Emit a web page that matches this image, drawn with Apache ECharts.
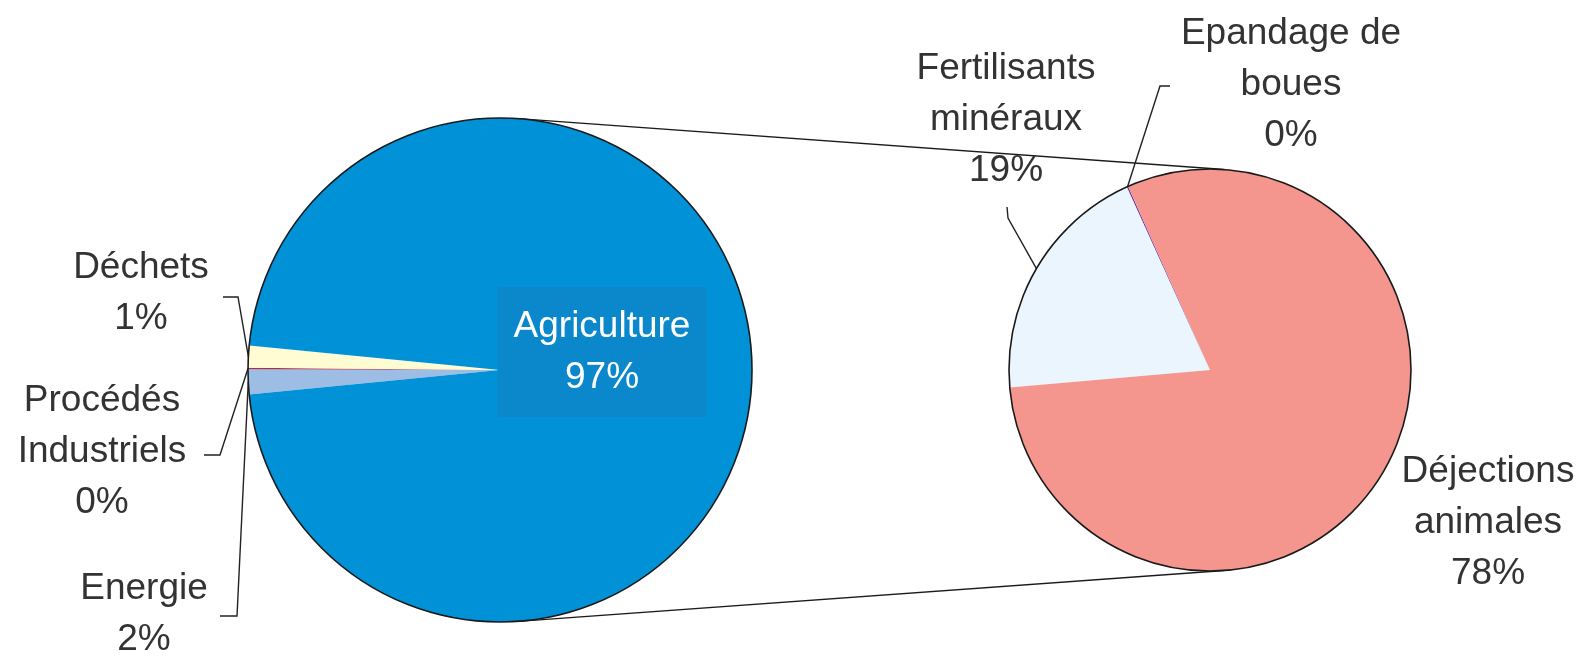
<!DOCTYPE html>
<html><head><meta charset="utf-8">
<script src="https://cdn.jsdelivr.net/npm/echarts@6/dist/echarts.min.js"></script>
<style>html,body{margin:0;padding:0;background:#fff}#chart{width:1582px;height:656px}</style>
</head><body><div id="chart"></div>
<script>
// ---- data ----
const mainCategories = ['Energie', 'Procédés\nIndustriels', 'Déchets', 'Agriculture'];
const mainValues = [1.6, 0.1, 1.4, 96.9];
const subCategories = ['Fertilisants\nminéraux', 'Epandage de\nboues', 'Déjections\nanimales'];
const subValues = [19.0, 0.1, 77.8];

// ---- styles / layout ----
const mainColors = ['#9DBDE5', '#A3324E', '#FFFBD2', '#0091D6'];
const subColors = ['#EAF5FD', '#7030A0', '#F4968E'];
const MAIN = {cx: 500, cy: 370, r: 252};
const SUB = {cx: 1210, cy: 370, r: 201};
const SUB_START = 185;

const mainLabelPos = [
  {x: 144, y: 614, line: [[237, 616], [220, 616]]},
  {x: 102, y: 452, line: [[220, 455], [204, 455]]},
  {x: 141, y: 293, line: [[238, 297], [223, 297]]},
  {x: 602, y: 352}
];
const subLabelPos = [
  {x: 1006, y: 120, line: [[1008, 218], [1007, 207]]},
  {x: 1291, y: 85, line: [[1160, 86], [1170, 86]]},
  {x: 1488, y: 523}
];

const total = mainValues.reduce((a, b) => a + b, 0);
const smallShare = (total - mainValues[3]) / total;
const mainStart = 180 + smallShare * 360 / 2;

// external tangent lines between the two pies
const dx = SUB.cx - MAIN.cx;
const th = Math.acos((MAIN.r - SUB.r) / dx);
const tTop = {x1: MAIN.cx + MAIN.r * Math.cos(th), y1: MAIN.cy - MAIN.r * Math.sin(th),
              x2: SUB.cx + SUB.r * Math.cos(th), y2: SUB.cy - SUB.r * Math.sin(th)};
const tBot = {x1: MAIN.cx + MAIN.r * Math.cos(th), y1: MAIN.cy + MAIN.r * Math.sin(th),
              x2: SUB.cx + SUB.r * Math.cos(th), y2: SUB.cy + SUB.r * Math.sin(th)};

const TEXT = {fontFamily: '"Liberation Sans", Arial, sans-serif', fontSize: 37, lineHeight: 51, color: '#333333'};

function makeLayout(posArr) {
  return function (p) {
    const pos = posArr[p.dataIndex];
    const out = {x: pos.x, y: pos.y, align: 'center', verticalAlign: 'middle'};
    if (pos.line && p.labelLinePoints) {
      out.labelLinePoints = [p.labelLinePoints[0]].concat(pos.line);
    }
    return out;
  };
}

const chart = echarts.init(document.getElementById('chart'));
chart.setOption({
  backgroundColor: '#ffffff',
  animation: false,
  graphic: [
    {type: 'line', z: 1, shape: tTop, style: {stroke: '#1a1a1a', lineWidth: 1.4}},
    {type: 'line', z: 1, shape: tBot, style: {stroke: '#1a1a1a', lineWidth: 1.4}},
    {type: 'circle', z: 10, silent: true, shape: {cx: MAIN.cx, cy: MAIN.cy, r: MAIN.r}, style: {fill: null, stroke: '#1a1a1a', lineWidth: 1.6}},
    {type: 'circle', z: 10, silent: true, shape: {cx: SUB.cx, cy: SUB.cy, r: SUB.r}, style: {fill: null, stroke: '#1a1a1a', lineWidth: 1.6}}
  ],
  series: [
    {
      type: 'pie', center: [MAIN.cx, MAIN.cy], radius: MAIN.r,
      startAngle: mainStart, clockwise: true, avoidLabelOverlap: false,
      emphasis: {disabled: true},
      itemStyle: {borderWidth: 0},
      label: Object.assign({show: true, position: 'outside', align: 'center',
        formatter: p => p.name + '\n' + Math.round(p.value) + '%'}, TEXT),
      labelLine: {show: true, smooth: false, lineStyle: {color: '#222', width: 1.4}},
      labelLayout: makeLayout(mainLabelPos),
      data: mainCategories.map((n, i) => {
        const d = {name: n, value: mainValues[i], itemStyle: {color: mainColors[i]}};
        if (i === 3) {
          d.label = {position: 'inside', color: '#ffffff', backgroundColor: '#0B88CB', padding: [10, 16, 18, 16]};
          d.labelLine = {show: false};
        }
        return d;
      })
    },
    {
      type: 'pie', center: [SUB.cx, SUB.cy], radius: SUB.r,
      startAngle: SUB_START, clockwise: true, avoidLabelOverlap: false,
      emphasis: {disabled: true},
      itemStyle: {borderWidth: 0},
      label: Object.assign({show: true, position: 'outside', align: 'center',
        formatter: p => p.name + '\n' + Math.round(p.value) + '%'}, TEXT),
      labelLine: {show: true, smooth: false, lineStyle: {color: '#222', width: 1.4}},
      labelLayout: makeLayout(subLabelPos),
      data: subCategories.map((n, i) => {
        const d = {name: n, value: subValues[i], itemStyle: {color: subColors[i]}};
        if (i === 2) d.labelLine = {show: false};
        return d;
      })
    }
  ]
});
</script></body></html>
